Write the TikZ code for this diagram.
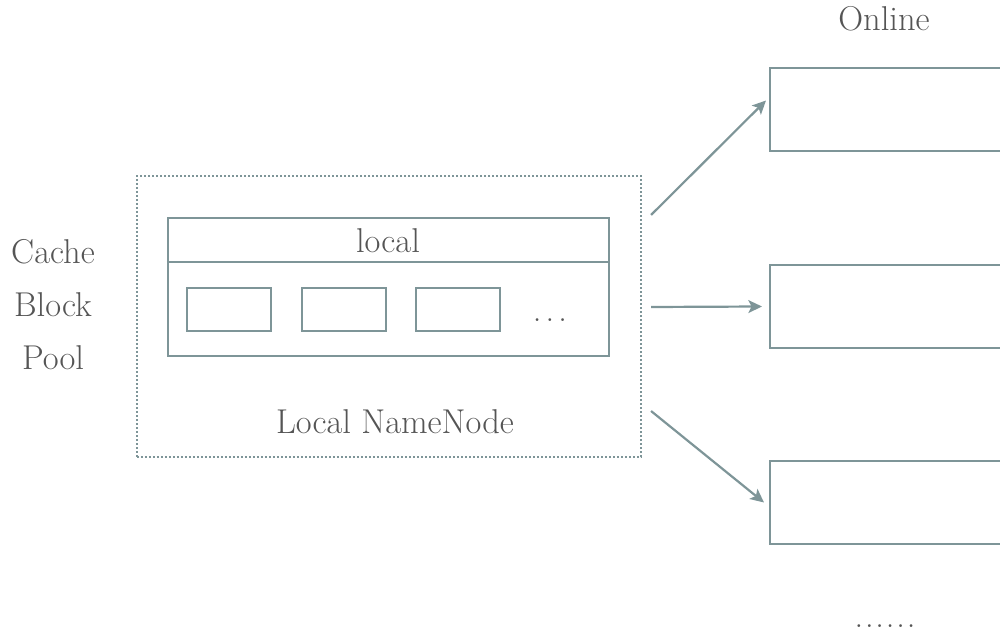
\documentclass[tikz,border=0pt]{standalone}
\usetikzlibrary{arrows.meta,positioning,calc}
\definecolor{edge}{HTML}{7E9598}
\definecolor{ink}{HTML}{555555}

\begin{document}
\begin{tikzpicture}[x=0.025cm,y=-0.025cm,>={Stealth[length=3.4mm,width=3.2mm,inset=0.8mm]},font=\fontsize{24.5}{28}\selectfont,text=ink]
\tikzstyle{bx}=[draw=edge,line width=0.55mm,inner sep=0pt]
\tikzstyle{lbl}=[anchor=base,inner sep=0pt]
\tikzstyle{arr}=[->,draw=edge,line width=0.55mm]
\clip (0,0) rectangle (1000,635);
% local namenode with its block pool
\node[draw=edge,line width=0.5mm,dash pattern=on 0.45mm off 0.55mm,minimum width=12.6cm,minimum height=7.025cm] (lnn) at (389,316.5) {};
\node[bx,minimum width=11.025cm,minimum height=3.45cm] (pool) at (388.5,287) {};
\draw[edge,line width=0.55mm] (pool.west |- 0,262) -- (pool.east |- 0,262);
\node[lbl] (loc) at (388,253) {local};
\foreach \i/\x in {1/229,2/344,3/458} { \node[bx,minimum width=2.1cm,minimum height=1.075cm] (b\i) at (\x,309.5) {}; }
\node[lbl] (more) at (550,322) {.\kern3pt.\kern3pt.};
\node[lbl] (name) at (395,434) {Local NameNode};
\node[lbl] (c1) at (53,264) {Cache};
\node[lbl] (c2) at (53,317) {Block};
\node[lbl] (c3) at (53,370) {Pool};
% online namenodes
\foreach \i/\y in {1/109.5,2/306.5,3/502.5} { \node[bx,anchor=west,minimum width=7cm,minimum height=2.075cm] (o\i) at (769,\y) {}; }
\node[lbl] (on) at (884,31) {Online};
\node[lbl] (etc) at (885,627) {.\kern1.3pt.\kern1.3pt.\kern1.3pt.\kern1.3pt.\kern1.3pt.};
\coordinate (s1) at ($(lnn.north east)+(9,40)$);
\coordinate (s2) at ($(lnn.east)+(9,-9.5)$);
\coordinate (s3) at ($(lnn.south east)+(9,-47)$);
\draw[arr] (s1) -- ($(o1.west)+(-3,-9)$);
\draw[arr] (s2) -- ($(o2.west)+(-7,0)$);
\draw[arr] (s3) -- ($(o3.west)+(-5,0)$);
\end{tikzpicture}
\end{document}
